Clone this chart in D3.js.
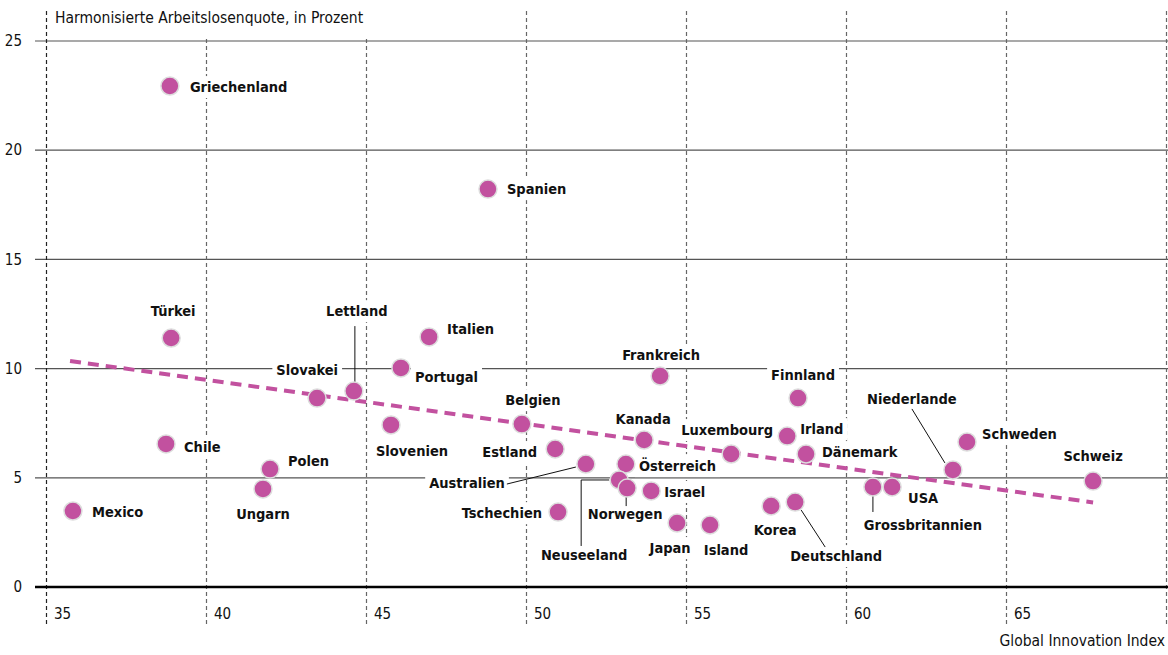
<!DOCTYPE html>
<html>
<head>
<meta charset="utf-8">
<script src="https://cdn.jsdelivr.net/npm/d3@7"></script>
<style>
  body { margin: 0; background: #fff; }
  svg text { font-family: "DejaVu Sans Condensed", "DejaVu Sans", sans-serif; fill: #111; }
  .lbl { font-size: 14.5px; font-weight: bold; }
  .tick { font-size: 15px; }
  .title { font-size: 15.5px; }
</style>
</head>
<body>
<div id="chart"></div>
<script>

// Global Innovation Index (x) vs harmonisierte Arbeitslosenquote (y)
var countries = ["Griechenland","Spanien","Türkei","Lettland","Italien","Slovakei","Portugal","Slovenien","Chile","Polen","Ungarn","Mexico","Frankreich","Belgien","Estland","Kanada","Australien","Österreich","Neuseeland","Norwegen","Israel","Tschechien","Japan","Island","Luxembourg","Korea","Deutschland","Finnland","Irland","Dänemark","Grossbritannien","USA","Niederlande","Schweden","Schweiz"]
var gii = [38.84,48.78,38.88,44.59,46.94,43.44,46.06,45.75,38.72,41.97,41.75,35.81,54.16,49.84,50.88,53.66,51.84,53.09,52.88,53.13,53.88,50.97,54.69,55.72,56.38,57.63,58.38,58.47,58.13,58.72,60.81,61.41,63.31,63.75,67.69]
var quote = [22.94,18.22,11.40,8.97,11.45,8.65,10.03,7.42,6.55,5.40,4.49,3.48,9.66,7.46,6.32,6.73,5.63,5.63,4.90,4.53,4.40,3.43,2.93,2.84,6.09,3.71,3.89,8.65,6.91,6.09,4.58,4.58,5.36,6.64,4.85]

// trend line end points
var trendX = [35.72, 67.69]
var trendY = [10.35, 3.87]

var xTicks = [35,40,45,50,55,60,65,70]
var yTicks = [0,5,10,15,20,25]

// label placement relative to the point: [dx, dy, anchor]
var labelPos = {
	"Griechenland": [20,1,"start"], "Spanien": [19,0,"start"], "Türkei": [2,-27,"middle"],
	"Lettland": [3,-80,"middle"], "Italien": [18,-8,"start"], "Slovakei": [21,-28,"end"],
	"Portugal": [14,9,"start"], "Slovenien": [21,26,"middle"], "Chile": [18,3,"start"],
	"Polen": [18,-8,"start"], "Ungarn": [0,25,"middle"], "Mexico": [19,1,"start"],
	"Frankreich": [1,-21,"middle"], "Belgien": [11,-24,"middle"], "Estland": [-18,3,"end"],
	"Kanada": [-1,-21,"middle"], "Australien": [-81,19,"end"], "Österreich": [13,2,"start"],
	"Neuseeland": [-35,75,"middle"], "Norwegen": [-2,26,"middle"], "Israel": [13,1,"start"],
	"Tschechien": [-16,1,"end"], "Japan": [-7,25,"middle"], "Island": [16,25,"middle"],
	"Luxembourg": [-4,-24,"middle"], "Korea": [4,24,"middle"], "Deutschland": [41,54,"middle"],
	"Finnland": [5,-23,"middle"], "Irland": [13,-7,"start"], "Dänemark": [16,-2,"start"],
	"Grossbritannien": [50,38,"middle"], "USA": [16,11,"start"], "Niederlande": [-41,-71,"middle"],
	"Schweden": [15,-8,"start"], "Schweiz": [0,-25,"middle"]
}

// leader lines relative to the point
var leaders = {
	"Lettland": [[1,-65],[1,-9]],
	"Australien": [[-79,20],[-10,3]],
	"Neuseeland": [[-38,66],[-38,0],[-10,0]],
	"Norwegen": [[-1,9],[-1,18]],
	"Deutschland": [[6,8],[30,45]],
	"Grossbritannien": [[0,9],[0,25]],
	"Niederlande": [[-41,-61],[-8,-7]]
}

var width = 1168, height = 655

var svg = d3.select("#chart").append("svg")
	.attr("width", width)
	.attr("height", height)

var x = d3.scaleLinear().domain([35,70]).range([47,1167])
var y = d3.scaleLinear().domain([0,25]).range([587,41])

// horizontal grid
svg.append("g").selectAll("line")
	.data(yTicks.filter(d => d > 0))
	.enter().append("line")
	.attr("x1", 35).attr("x2", width)
	.attr("y1", d => y(d)).attr("y2", d => y(d))
	.attr("stroke", "#555")
	.attr("stroke-width", 1.2)

// vertical dashed grid
svg.append("g").selectAll("line")
	.data(xTicks)
	.enter().append("line")
	.attr("x1", d => Math.round(x(d)) - 0.5).attr("x2", d => Math.round(x(d)) - 0.5)
	.attr("y1", 11).attr("y2", 624)
	.attr("stroke", (d, i) => i == 0 ? "#222" : "#666")
	.attr("stroke-width", 1.2)
	.attr("stroke-dasharray", "4,3")

// zero line
svg.append("line")
	.attr("x1", 35).attr("x2", width)
	.attr("y1", y(0)).attr("y2", y(0))
	.attr("stroke", "#000")
	.attr("stroke-width", 2.5)

// tick labels
svg.append("g").selectAll("text")
	.data(yTicks)
	.enter().append("text")
	.attr("class", "tick")
	.attr("x", 22)
	.attr("y", d => y(d))
	.attr("dy", "0.35em")
	.attr("text-anchor", "end")
	.text(d => d)

svg.append("g").selectAll("text")
	.data(xTicks.slice(0, 7))
	.enter().append("text")
	.attr("class", "tick")
	.attr("x", d => x(d) + 7)
	.attr("y", 614)
	.attr("dy", "0.35em")
	.text(d => d)

var titleBg = svg.append("rect").attr("fill", "#fff")
var title = svg.append("text")
	.attr("class", "title")
	.attr("x", 55).attr("y", 18).attr("dy", "0.35em")
	.text("Harmonisierte Arbeitslosenquote, in Prozent")
var tb = title.node().getBBox()
titleBg.attr("x", tb.x - 3).attr("y", 0)
	.attr("width", tb.width + 8).attr("height", 36)

svg.append("text")
	.attr("class", "title")
	.attr("x", 1165).attr("y", 641).attr("dy", "0.35em")
	.attr("text-anchor", "end")
	.text("Global Innovation Index")

var data = countries.map((c, i) => ({name: c, x: gii[i], y: quote[i]}))

// labels with white knock-out background
var bgLayer = svg.append("g")
var trendLayer = svg.append("g")
var textLayer = svg.append("g")

var labels = textLayer.selectAll("text")
	.data(data)
	.enter().append("text")
	.attr("class", "lbl")
	.attr("x", d => x(d.x) + labelPos[d.name][0])
	.attr("y", d => y(d.y) + labelPos[d.name][1])
	.attr("dy", "0.35em")
	.attr("text-anchor", d => labelPos[d.name][2])
	.text(d => d.name)

labels.each(function(d) {
	var b = this.getBBox()
	bgLayer.append("rect")
		.attr("x", b.x - 4).attr("y", b.y - 3)
		.attr("width", b.width + 8).attr("height", b.height + 6)
		.attr("fill", "#fff")
})

trendLayer.append("line")
	.attr("x1", x(trendX[0])).attr("y1", y(trendY[0]))
	.attr("x2", x(trendX[1])).attr("y2", y(trendY[1]))
	.attr("stroke", "#c2519f")
	.attr("stroke-width", 4)
	.attr("stroke-dasharray", "11,7")

var line = d3.line()
textLayer.selectAll("path.leader")
	.data(data.filter(d => leaders[d.name]))
	.enter().append("path")
	.attr("class", "leader")
	.attr("fill", "none")
	.attr("stroke", "#111")
	.attr("stroke-width", 1)
	.attr("d", d => line(leaders[d.name].map(p => [x(d.x) + p[0], y(d.y) + p[1]])))

svg.append("g").selectAll("circle")
	.data(data)
	.enter().append("circle")
	.attr("cx", d => x(d.x))
	.attr("cy", d => y(d.y))
	.attr("r", 9)
	.attr("fill", "#c2519f")
	.attr("stroke", "#ddd")
	.attr("stroke-width", 1.5)

</script>
</body>
</html>
